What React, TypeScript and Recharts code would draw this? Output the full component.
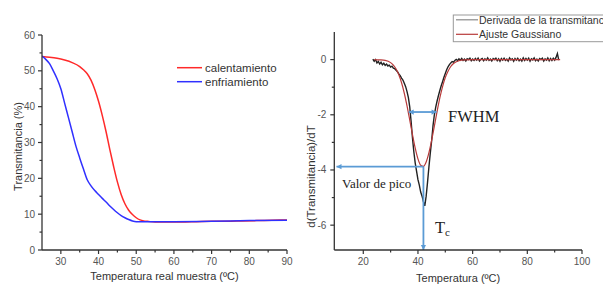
import React from 'react';
import { LineChart, Line, XAxis, YAxis, ReferenceLine } from 'recharts';

// left panel: transmittance vs sample temperature
const calentT = [25, 27, 29, 31, 33, 35, 36, 37, 38, 39, 40, 41, 42, 43, 44, 45, 46, 47, 48, 49, 50, 51, 52, 53, 55, 58, 62, 66, 70, 74, 78, 82, 86, 90];
const calentV = [54.0, 53.8, 53.5, 53.0, 52.3, 51.2, 50.3, 49.2, 47.4, 44.8, 41.5, 37.5, 33.0, 28.0, 23.3, 19.0, 15.5, 12.9, 11.1, 9.9, 9.0, 8.4, 8.1, 8.0, 7.8, 7.8, 7.8, 7.9, 8.0, 8.0, 8.1, 8.2, 8.3, 8.4];
const enfriT = [25, 26, 27, 28, 29, 30, 31, 32, 33, 34, 35, 36, 37, 38, 39, 40, 41, 42, 43, 44, 45, 46, 47, 48, 49, 50, 55, 60, 70, 80, 90];
const enfriV = [54.1, 53.2, 52.0, 50.0, 47.8, 45.0, 41.0, 37.0, 33.0, 29.0, 25.7, 22.6, 19.6, 17.9, 16.6, 15.5, 14.4, 13.4, 12.3, 11.3, 10.4, 9.6, 9.0, 8.5, 8.1, 7.9, 7.9, 7.9, 8.0, 8.2, 8.3];
const leftNames = ['calentamiento', 'enfriamiento'];
const leftColors = ['#ff2a2a', '#3030ff'];
const leftXTicks = [30, 35, 40, 45, 50, 55, 60, 65, 70, 75, 80, 85, 90];
const leftXMajor = [30, 40, 50, 60, 70, 80, 90];
const leftYTicks = [0, 5, 10, 15, 20, 25, 30, 35, 40, 45, 50, 55, 60];
const leftYMajor = [0, 10, 20, 30, 40, 50, 60];

// right panel: derivative of transmittance and gaussian fit
const derivT = [23.5, 24, 24.5, 25, 25.5, 26, 26.5, 27, 27.5, 28, 28.5, 29, 29.5, 30, 30.5, 31, 31.5, 32, 32.5, 33, 33.5, 34, 34.5, 35, 35.5, 36, 36.5, 37, 37.5, 38, 38.5, 39, 39.5, 40, 40.5, 41, 41.5, 42, 42.5, 43, 43.5, 44, 44.5, 45, 45.5, 46, 46.5, 47, 47.5, 48, 48.5, 49, 49.5, 50, 50.5, 51, 51.5, 52, 52.5, 53, 53.5, 54, 54.5, 55, 55.5, 56, 56.5, 57, 57.5, 58, 58.5, 59, 59.5, 60, 60.5, 61, 61.5, 62, 62.5, 63, 63.5, 64, 64.5, 65, 65.5, 66, 66.5, 67, 67.5, 68, 68.5, 69, 69.5, 70, 70.5, 71, 71.5, 72, 72.5, 73, 73.5, 74, 74.5, 75, 75.5, 76, 76.5, 77, 77.5, 78, 78.5, 79, 79.5, 80, 80.5, 81, 81.5, 82, 82.5, 83, 83.5, 84, 84.5, 85, 85.5, 86, 86.5, 87, 87.5, 88, 88.5, 89, 89.5, 90, 90.5, 91, 91.5];
const derivV = [0.02, -0.06, 0.0, -0.12, -0.07, -0.16, -0.1, -0.19, -0.13, -0.21, -0.16, -0.23, -0.2, -0.27, -0.24, -0.31, -0.33, -0.39, -0.44, -0.52, -0.58, -0.67, -0.74, -0.86, -0.98, -1.16, -1.38, -1.72, -2.25, -2.85, -3.35, -3.75, -4.05, -4.35, -4.55, -4.8, -4.95, -5.15, -5.3, -4.95, -4.45, -3.9, -3.4, -2.95, -2.4, -2.0, -1.72, -1.5, -1.3, -1.12, -0.95, -0.8, -0.64, -0.5, -0.37, -0.26, -0.18, -0.12, -0.07, -0.09, -0.03, 0.01, -0.04, 0.03, -0.02, 0.04, -0.03, 0.02, -0.05, 0.03, 0.0, 0.05, -0.04, 0.02, -0.03, 0.04, -0.02, 0.05, -0.05, 0.01, 0.04, -0.04, 0.03, -0.02, 0.06, -0.03, 0.02, -0.05, 0.04, 0.0, 0.05, -0.04, 0.03, -0.06, 0.04, -0.02, 0.05, -0.03, 0.02, -0.05, 0.06, -0.01, 0.03, -0.06, 0.04, -0.02, 0.05, -0.04, 0.02, -0.05, 0.06, -0.03, 0.04, -0.02, 0.05, -0.06, 0.03, -0.01, 0.06, -0.04, 0.02, -0.05, 0.04, 0.0, 0.05, -0.05, 0.03, -0.02, 0.06, -0.04, 0.04, -0.03, 0.05, -0.02, 0.08, 0.22, -0.02];
const gaussT = [24, 26, 28, 30, 31, 32, 33, 34, 35, 36, 37, 38, 39, 40, 41, 42, 43, 44, 45, 46, 47, 48, 49, 50, 51, 52, 53, 55, 57, 60, 70, 80, 92];
const gaussV = [0, -0.01, -0.03, -0.11, -0.2, -0.34, -0.55, -0.84, -1.22, -1.68, -2.19, -2.72, -3.21, -3.6, -3.83, -3.87, -3.71, -3.38, -2.93, -2.41, -1.88, -1.39, -0.98, -0.65, -0.42, -0.25, -0.14, -0.04, -0.01, 0, 0, 0, 0];
const rightNames = ['Derivada de la transmitancia', 'Ajuste Gaussiano'];
const rightColors = ['#222222', '#b83a3a'];
const rightLegendColors = ['#8a8a8a', '#b83a3a'];
const rightXTicks = [20, 30, 40, 50, 60, 70, 80, 90, 100];
const rightXMajor = [20, 40, 60, 80, 100];
const rightYTicks = [-6, -5, -4, -3, -2, -1, 0];
const rightYMajor = [-6, -4, -2, 0];

// annotations (data coordinates)
const fwhmT = [36.6, 46.8];
const fwhmV = -1.9;
const peakT = 42;
const peakV = -3.88;
const peakArrowEndT = 10.2;
const yMinRight = -6.9;

const pts = (ts: number[], vs: number[]) => ts.map((t, i) => ({ t, v: vs[i] }));

const AXIS = '#333';
const TICK_TEXT = '#555';
const ANN = '#5b9bd5';

const BottomTick = (p: any) => {
  const { x, y, payload, majors } = p;
  const major = majors.includes(payload.value);
  return (
    <g>
      <line x1={x} x2={x} y1={y} y2={y + (major ? 4 : 2.5)} stroke={AXIS} strokeWidth={1.2} />
      {major && (
        <text x={x} y={y + 15} textAnchor="middle" fontSize={10} fill={TICK_TEXT}>
          {payload.value}
        </text>
      )}
    </g>
  );
};

const LeftTick = (p: any) => {
  const { x, y, payload, majors, gap } = p;
  const major = majors.includes(payload.value);
  return (
    <g>
      <line x1={x} x2={x - (major ? 4 : 2.5)} y1={y} y2={y} stroke={AXIS} strokeWidth={1.2} />
      {major && (
        <text x={x - gap} y={y + 3.5} textAnchor="end" fontSize={10} fill={TICK_TEXT}>
          {payload.value}
        </text>
      )}
    </g>
  );
};

const arrowShape = (both: boolean) => (p: any) => {
  const { x1, y1, x2, y2 } = p;
  if ([x1, y1, x2, y2].some((n) => typeof n !== 'number' || isNaN(n))) return <g />;
  const head = (hx: number, hy: number, fx: number, fy: number) => {
    const a = Math.atan2(hy - fy, hx - fx);
    const L = 5;
    const W = 2.6;
    const bx = hx - L * Math.cos(a);
    const by = hy - L * Math.sin(a);
    const pts = `${hx},${hy} ${bx - W * Math.sin(a)},${by + W * Math.cos(a)} ${bx + W * Math.sin(a)},${by - W * Math.cos(a)}`;
    return <polygon points={pts} fill={ANN} />;
  };
  return (
    <g>
      <line x1={x1} y1={y1} x2={x2} y2={y2} stroke={ANN} strokeWidth={1.8} />
      {head(x2, y2, x1, y1)}
      {both && head(x1, y1, x2, y2)}
    </g>
  );
};

export default function App() {
  const axisLine = { stroke: AXIS, strokeWidth: 1.3 };
  return (
    <div
      style={{
        position: 'absolute',
        left: 0,
        top: 0,
        width: 603,
        height: 284,
        overflow: 'hidden',
        background: '#fff',
        fontFamily: '"Liberation Sans", Arial, sans-serif',
      }}
    >
      <div style={{ position: 'absolute', left: 0, top: 0 }}>
        <LineChart width={300} height={284} margin={{ top: 35, right: 13, bottom: 4, left: 2 }}>
          <XAxis
            type="number"
            dataKey="t"
            domain={[25, 90]}
            ticks={leftXTicks}
            interval={0}
            allowDataOverflow
            height={30}
            tickSize={0}
            tickMargin={0}
            axisLine={axisLine}
            tickLine={false}
            tick={(p: any) => <BottomTick {...p} majors={leftXMajor} />}
            label={{ value: 'Temperatura real muestra (ºC)', position: 'insideBottom', offset: 0, fontSize: 11, fill: '#333' }}
          />
          <YAxis
            type="number"
            domain={[0, 60]}
            ticks={leftYTicks}
            interval={0}
            allowDataOverflow
            width={40}
            tickSize={0}
            tickMargin={0}
            axisLine={axisLine}
            tickLine={false}
            tick={(p: any) => <LeftTick {...p} majors={leftYMajor} gap={7} />}
          />
          <Line data={pts(calentT, calentV)} dataKey="v" type="monotone" stroke={leftColors[0]} strokeWidth={1.5} dot={false} isAnimationActive={false} />
          <Line data={pts(enfriT, enfriV)} dataKey="v" type="monotone" stroke={leftColors[1]} strokeWidth={1.5} dot={false} isAnimationActive={false} />
        </LineChart>
      </div>

      <div style={{ position: 'absolute', left: 300, top: 0 }}>
        <LineChart width={303} height={284} margin={{ top: 32, right: 21, bottom: 4, left: 2 }}>
          <XAxis
            type="number"
            dataKey="t"
            domain={[9.4, 100]}
            ticks={rightXTicks}
            interval={0}
            allowDataOverflow
            height={30}
            tickSize={0}
            tickMargin={0}
            axisLine={axisLine}
            tickLine={false}
            tick={(p: any) => <BottomTick {...p} majors={rightXMajor} />}
            label={{ value: 'Temperatura (ºC)', position: 'insideBottom', offset: -1.5, fontSize: 11, fill: '#333' }}
          />
          <YAxis
            type="number"
            domain={[yMinRight, 1]}
            ticks={rightYTicks}
            interval={0}
            allowDataOverflow
            width={32.3}
            tickSize={0}
            tickMargin={0}
            axisLine={axisLine}
            tickLine={false}
            tick={(p: any) => <LeftTick {...p} majors={rightYMajor} gap={8} />}
          />
          <Line data={pts(derivT, derivV)} dataKey="v" type="linear" stroke={rightColors[0]} strokeWidth={1.4} dot={false} isAnimationActive={false} />
          <Line data={pts(gaussT, gaussV)} dataKey="v" type="monotone" stroke={rightColors[1]} strokeWidth={1.2} dot={false} isAnimationActive={false} />
          <ReferenceLine
            segment={[{ x: fwhmT[0], y: fwhmV }, { x: fwhmT[1], y: fwhmV }]}
            ifOverflow="visible"
            shape={arrowShape(true)}
          />
          <ReferenceLine
            segment={[{ x: peakT, y: peakV }, { x: peakArrowEndT, y: peakV }]}
            ifOverflow="visible"
            shape={arrowShape(false)}
          />
          <ReferenceLine
            segment={[{ x: peakT, y: peakV }, { x: peakT, y: yMinRight }]}
            ifOverflow="visible"
            shape={arrowShape(false)}
          />
        </LineChart>
      </div>

      <svg width={603} height={284} style={{ position: 'absolute', left: 0, top: 0, pointerEvents: 'none' }}>
        {/* axis titles on the y side */}
        <text x={18.3} y={146.5} transform="rotate(-90 18.3 146.5)" textAnchor="middle" dominantBaseline="central" fontSize={11} fill="#333">
          Transmitancia (%)
        </text>
        <text x={311} y={176.5} transform="rotate(-90 311 176.5)" textAnchor="middle" dominantBaseline="central" fontSize={11.5} fill="#333">
          d(Transmitancia)/dT
        </text>

        {/* left legend */}
        {leftNames.map((n, i) => (
          <g key={n}>
            <line x1={177} x2={202} y1={67.7 + i * 14} y2={67.7 + i * 14} stroke={leftColors[i]} strokeWidth={1.5} />
            <text x={205} y={71.7 + i * 14} fontSize={11.5} fill="#333">{n}</text>
          </g>
        ))}

        {/* right legend, cut by the page edge as in the original */}
        <rect x={453.3} y={15} width={200} height={26.7} fill="#fff" stroke="#999" strokeWidth={1} />
        {rightNames.map((n, i) => (
          <g key={n}>
            <line x1={456} x2={478} y1={19.8 + i * 14.5} y2={19.8 + i * 14.5} stroke={rightLegendColors[i]} strokeWidth={1.2} />
            <text x={479} y={23.6 + i * 14.5} fontSize={10.5} fill="#333">{n}</text>
          </g>
        ))}

        {/* annotations */}
        <text x={448} y={122} fontFamily='"Liberation Serif", "Times New Roman", serif' fontSize={16.5} fill="#222">FWHM</text>
        <text x={342} y={187.5} fontFamily='"Liberation Serif", "Times New Roman", serif' fontSize={13} fill="#222">Valor de pico</text>
        <text x={435} y={233} fontFamily='"Liberation Serif", "Times New Roman", serif' fontSize={16.5} fill="#222">
          T<tspan fontSize={11} dy={3}>c</tspan>
        </text>
      </svg>
    </div>
  );
}
